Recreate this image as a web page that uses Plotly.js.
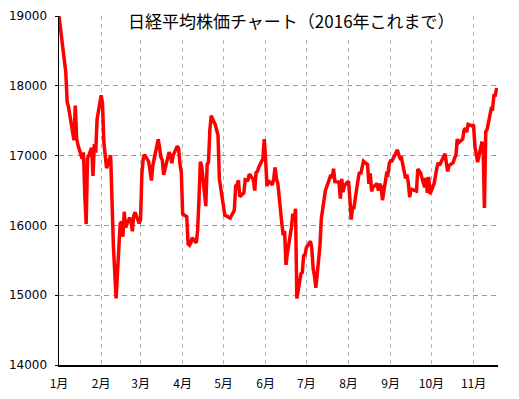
<!DOCTYPE html>
<html>
<head>
<meta charset="utf-8">
<script src="https://cdn.plot.ly/plotly-3.0.1.min.js"></script>
<style>html,body{margin:0;padding:0;background:#fff;}#chart{width:519px;height:399px;}</style>
</head>
<body>
<div id="chart"></div>
<script>
const titleText = "日経平均株価チャート（2016年これまで）";
const monthTicks = ["2016-01-01","2016-02-01","2016-03-01","2016-04-01","2016-05-01","2016-06-01","2016-07-01","2016-08-01","2016-09-01","2016-10-01","2016-11-01"];
const monthLabels = ["1月","2月","3月","4月","5月","6月","7月","8月","9月","10月","11月"];
const yTicks = [14000,15000,16000,17000,18000,19000];

const dates = [
"2016-01-01","2016-01-04","2016-01-05","2016-01-06","2016-01-07","2016-01-08","2016-01-12","2016-01-13","2016-01-14","2016-01-15","2016-01-18","2016-01-19","2016-01-20","2016-01-21","2016-01-22","2016-01-25","2016-01-26","2016-01-27","2016-01-28","2016-01-29",
"2016-02-01","2016-02-02","2016-02-03","2016-02-04","2016-02-05","2016-02-08","2016-02-09","2016-02-10","2016-02-12","2016-02-15","2016-02-16","2016-02-17","2016-02-18","2016-02-19","2016-02-22","2016-02-23","2016-02-24","2016-02-25","2016-02-26","2016-02-29",
"2016-03-01","2016-03-02","2016-03-03","2016-03-04","2016-03-07","2016-03-08","2016-03-09","2016-03-10","2016-03-11","2016-03-14","2016-03-15","2016-03-16","2016-03-17","2016-03-18","2016-03-22","2016-03-23","2016-03-24","2016-03-25","2016-03-28","2016-03-29","2016-03-30","2016-03-31",
"2016-04-01","2016-04-04","2016-04-05","2016-04-06","2016-04-07","2016-04-08","2016-04-11","2016-04-12","2016-04-13","2016-04-14","2016-04-15","2016-04-18","2016-04-19","2016-04-20","2016-04-21","2016-04-22","2016-04-25","2016-04-26","2016-04-27","2016-04-28",
"2016-05-02","2016-05-06","2016-05-09","2016-05-10","2016-05-11","2016-05-12","2016-05-13","2016-05-16","2016-05-17","2016-05-18","2016-05-19","2016-05-20","2016-05-23","2016-05-24","2016-05-25","2016-05-26","2016-05-27","2016-05-30","2016-05-31",
"2016-06-01","2016-06-02","2016-06-03","2016-06-06","2016-06-07","2016-06-08","2016-06-09","2016-06-10","2016-06-13","2016-06-14","2016-06-15","2016-06-16","2016-06-17","2016-06-20","2016-06-21","2016-06-22","2016-06-23","2016-06-24","2016-06-27","2016-06-28","2016-06-29","2016-06-30",
"2016-07-01","2016-07-04","2016-07-05","2016-07-06","2016-07-07","2016-07-08","2016-07-11","2016-07-12","2016-07-13","2016-07-14","2016-07-15","2016-07-19","2016-07-20","2016-07-21","2016-07-22","2016-07-25","2016-07-26","2016-07-27","2016-07-28","2016-07-29",
"2016-08-01","2016-08-02","2016-08-03","2016-08-04","2016-08-05","2016-08-08","2016-08-09","2016-08-10","2016-08-12","2016-08-15","2016-08-16","2016-08-17","2016-08-18","2016-08-19","2016-08-22","2016-08-23","2016-08-24","2016-08-25","2016-08-26","2016-08-29","2016-08-30","2016-08-31",
"2016-09-01","2016-09-02","2016-09-05","2016-09-06","2016-09-07","2016-09-08","2016-09-09","2016-09-12","2016-09-13","2016-09-14","2016-09-15","2016-09-16","2016-09-20","2016-09-21","2016-09-23","2016-09-26","2016-09-27","2016-09-28","2016-09-29","2016-09-30",
"2016-10-03","2016-10-04","2016-10-05","2016-10-06","2016-10-07","2016-10-11","2016-10-12","2016-10-13","2016-10-14","2016-10-17","2016-10-18","2016-10-19","2016-10-20","2016-10-21","2016-10-24","2016-10-25","2016-10-26","2016-10-27","2016-10-28","2016-10-31",
"2016-11-01","2016-11-02","2016-11-04","2016-11-07","2016-11-08","2016-11-09","2016-11-10","2016-11-11","2016-11-14","2016-11-15","2016-11-16","2016-11-17","2016-11-18"
];
const closes = [
19000,18451,18374,18191,17767,17698,17219,17715,17240,17147,16956,17048,16417,16017,16958,17111,16708,17164,17041,17518,
17865,17750,17191,17045,16820,17004,16085,15713,14953,16022,16054,15837,16196,15967,16111,16052,15916,16140,16188,16027,
16085,16747,16960,17015,16912,16784,16642,16853,16939,17233,17117,16975,16937,16725,17049,17001,16892,17003,17135,17103,16879,16759,
16164,16123,15733,15715,15750,15822,15751,15928,16381,16912,16848,16276,16875,16906,17364,17572,17440,17353,17290,16666,
16148,16106,16216,16565,16579,16646,16412,16467,16653,16645,16647,16736,16655,16499,16757,16773,16835,16956,17235,
16955,16562,16642,16580,16675,16830,16668,16601,16019,15859,15919,15434,15599,15965,16169,16065,16238,14952,15309,15323,15566,15575,
15682,15775,15669,15378,15276,15106,15708,16095,16231,16386,16497,16723,16681,16811,16627,16620,16383,16665,16476,16569,
16635,16391,16083,16254,16254,16650,16764,16735,16920,16870,16596,16746,16487,16546,16598,16498,16597,16556,16361,16737,16725,16887,
16926,16925,17038,17082,17012,16959,16965,16673,16729,16615,16405,16519,16492,16808,16754,16545,16684,16466,16694,16450,
16599,16736,16820,16900,16860,17025,16841,16774,16856,16900,16963,16999,17235,17185,17235,17366,17392,17337,17447,17425,
17443,17135,16905,17178,17172,16251,17345,17375,17673,17668,17862,17863,17968
];

const trace = {
  x: dates, y: closes, type: "scatter", mode: "lines",
  line: {color: "#ff0000", width: 3.5},
  hoverinfo: "skip"
};

const layout = {
  width: 519, height: 399,
  margin: {l: 59, r: 21, t: 16, b: 34, pad: 0},
  paper_bgcolor: "#ffffff", plot_bgcolor: "#ffffff",
  showlegend: false,
  font: {family: "'Noto Sans CJK JP', 'Noto Sans', sans-serif", color: "#000000"},
  xaxis: {
    type: "date",
    range: ["2016-01-01", "2016-11-19"],
    tickmode: "array", tickvals: monthTicks, ticktext: monthLabels,
    showgrid: true, gridcolor: "#b4b4b4", gridwidth: 1, griddash: "4px,4px",
    showline: true, linecolor: "#000000", linewidth: 1.5,
    ticks: "", ticklabelstandoff: 7,
    tickfont: {size: 12, family: "'Noto Sans CJK JP', sans-serif", color: "#000010"},
    zeroline: false, fixedrange: true
  },
  yaxis: {
    range: [14000, 19000],
    tickmode: "array", tickvals: yTicks, ticktext: yTicks.map(String),
    showgrid: true, gridcolor: "#999999", gridwidth: 1, griddash: "5px,4px",
    showline: true, linecolor: "#000000", linewidth: 1.5,
    ticks: "outside", ticklen: 3, tickcolor: "#000000", tickwidth: 1,
    ticklabelstandoff: 5,
    tickfont: {size: 12, family: "'DejaVu Sans', sans-serif", color: "#000010"},
    zeroline: false, fixedrange: true
  },
  annotations: [{
    text: titleText,
    xref: "paper", yref: "paper",
    x: 0.5296, y: 0.9885, xanchor: "center", yanchor: "middle",
    showarrow: false,
    bgcolor: "#ffffff", borderpad: 4,
    font: {size: 17, family: "'Noto Sans CJK JP', sans-serif", color: "#000000"}
  }]
};

Plotly.newPlot("chart", [trace], layout, {displayModeBar: false, staticPlot: true});
</script>
</body>
</html>
